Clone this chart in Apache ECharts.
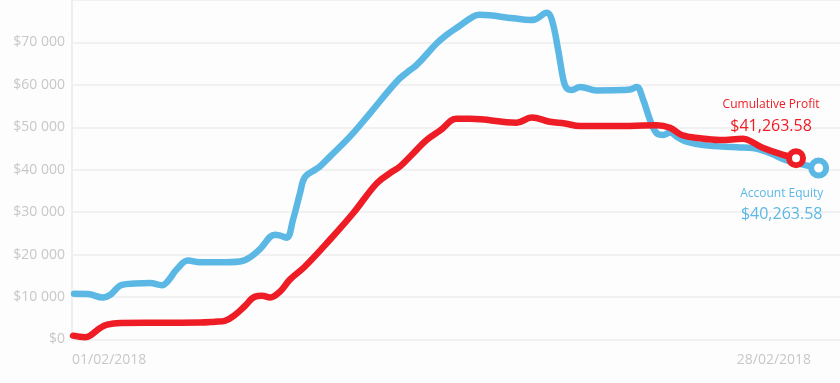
<!DOCTYPE html>
<html>
<head>
<meta charset="utf-8">
<script src="https://cdn.jsdelivr.net/npm/echarts@6/dist/echarts.min.js"></script>
<style>
html,body{margin:0;padding:0;background:#fdfdfd;}
#chart{width:840px;height:383px;}
</style>
</head>
<body>
<div id="chart"></div>
<script>
// Account Equity (blue): day of month (fractional) and value
const equityDays = [1.08,1.62,2.19,2.46,2.92,3.42,4.00,4.46,4.69,5.04,5.46,5.92,6.69,7.46,7.85,8.23,8.81,9.04,9.26,9.50,9.77,9.96,10.35,10.54,10.92,11.69,12.46,13.49,13.92,14.26,15.03,15.41,15.86,16.43,16.69,17.97,18.62,18.81,19.26,19.45,19.70,19.90,20.03,20.22,20.54,21.18,22.20,22.46,22.72,22.97,23.23,23.49,23.74,24.00,24.31,24.64,25.28,26.57,27.20,27.85,28.49,29.72];
const equityValues = [10800,10700,9900,10500,12900,13200,13300,12800,13800,16600,18600,18200,18200,18400,19400,21300,24700,24400,24000,28200,34500,38300,40000,40800,43100,47800,53300,60800,63100,64700,69800,71800,73700,76100,76500,75700,75300,75400,77000,75500,68200,61200,59200,58800,59500,58700,58800,58900,59500,56500,51800,48600,48200,48800,47600,46600,45800,45300,45100,43900,42200,40400];
// Cumulative Profit (red)
const profitDays = [1.04,1.50,1.69,2.08,2.35,2.85,4.38,5.92,6.50,6.88,7.27,7.65,8.04,8.31,8.62,9.00,9.38,9.96,10.92,11.82,12.72,13.23,13.62,14.13,14.64,15.15,15.80,16.31,18.10,18.68,19.38,19.96,20.54,22.46,23.49,24.00,24.45,25.15,25.92,26.82,27.20,27.59,28.36,28.85];
const profitValues = [900,550,900,2700,3500,3900,3950,4000,4200,4400,5800,7900,10100,10300,9900,11300,14100,17200,23500,29800,36800,39200,40800,43900,47000,49200,52000,52000,51100,52300,51300,50900,50300,50300,50500,49900,48200,47400,47000,47300,46400,45100,43500,42700];
// Axis labels
const xLabelDays = [1, 28];
const xLabelTexts = ['01/02/2018', '28/02/2018'];
const profitTitle = 'Cumulative Profit';
const profitText = '$41,263.58';
const equityTitle = 'Account Equity';
const equityText = '$40,263.58';

const BLUE = '#5bb8e5', RED = '#ee1c25';
const zip = (a, b) => a.map((d, i) => [d, b[i]]);
const last = (a, b) => [[a[a.length - 1], b[b.length - 1]]];

const chart = echarts.init(document.getElementById('chart'));
chart.setOption({
  backgroundColor: '#fdfdfd',
  animation: false,
  grid: {left: 72, right: 0, top: 0, bottom: 43.5},
  xAxis: {
    type: 'value', min: 1, max: 30.54,
    axisLine: {show: false}, axisTick: {show: false}, splitLine: {show: false},
    axisLabel: {
      customValues: xLabelDays,
      alignMinLabel: 'left',
      margin: 14,
      color: '#c8c8c8', fontFamily: 'Open Sans', fontSize: 14,
      formatter: v => xLabelTexts[xLabelDays.indexOf(v)] || ''
    }
  },
  yAxis: {
    type: 'value', min: 0, max: 80000, interval: 10000,
    axisLine: {show: true, lineStyle: {color: '#eeeeee', width: 2}},
    axisTick: {show: false},
    splitLine: {lineStyle: {color: '#f1f1f1', width: 2}},
    axisLabel: {
      showMaxLabel: false, margin: 7,
      color: '#c8c8c8', fontFamily: 'Open Sans', fontSize: 14,
      formatter: v => '$' + String(v).replace(/\B(?=(\d{3})+(?!\d))/g, ' ')
    }
  },
  series: [
    {type: 'line', data: zip(equityDays, equityValues), smooth: 0.4, symbol: 'none', z: 2,
     lineStyle: {color: BLUE, width: 6.5, cap: 'round', join: 'round'}},
    {type: 'line', data: zip(profitDays, profitValues), smooth: 0.4, symbol: 'none', z: 3,
     lineStyle: {color: RED, width: 6.5, cap: 'round', join: 'round'}},
    {type: 'scatter', data: last(equityDays, equityValues), symbol: 'circle', symbolSize: 15, z: 10,
     itemStyle: {color: '#ffffff', borderColor: BLUE, borderWidth: 6, opacity: 1},
     label: {show: true, position: 'bottom', distance: 5, offset: [-37, 0], align: 'center',
       formatter: '{a|' + equityTitle + '}\n{b|' + equityText + '}',
       rich: {a: {color: BLUE, fontFamily: 'Open Sans', fontSize: 12, lineHeight: 20, align: 'center'},
              b: {color: BLUE, fontFamily: 'Open Sans', fontSize: 16, lineHeight: 21, align: 'center'}}}},
    {type: 'scatter', data: last(profitDays, profitValues), symbol: 'circle', symbolSize: 14, z: 11,
     itemStyle: {color: '#ffffff', borderColor: RED, borderWidth: 6, opacity: 1},
     label: {show: true, position: 'top', distance: 11, offset: [-25, 0], align: 'center',
       formatter: '{a|' + profitTitle + '}\n{b|' + profitText + '}',
       rich: {a: {color: RED, fontFamily: 'Open Sans', fontSize: 12, lineHeight: 21, align: 'center'},
              b: {color: RED, fontFamily: 'Open Sans', fontSize: 16, lineHeight: 22, align: 'center'}}}}
  ]
});
</script>
</body>
</html>
